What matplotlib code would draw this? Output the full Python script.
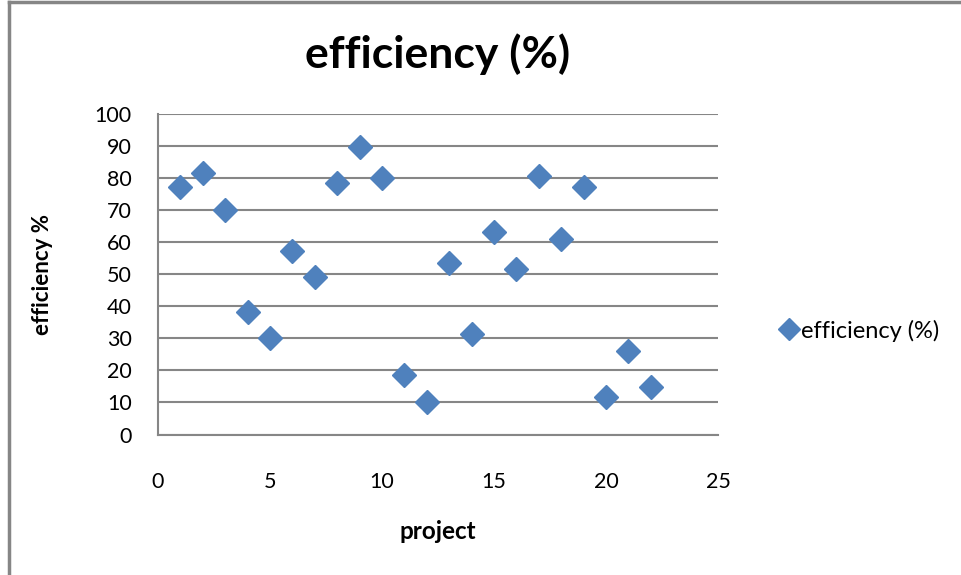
import numpy as np
import matplotlib
matplotlib.use("Agg")
import matplotlib.pyplot as plt
from matplotlib.lines import Line2D

plt.rcParams['font.family'] = ['Lato', 'DejaVu Sans']

# efficiency per project
projects = np.arange(1, 23)
efficiency = [77.2, 81.6, 70.0, 38.3, 30.0, 57.4, 49.0, 78.6, 89.6, 79.9, 18.5,
              10.2, 53.5, 31.4, 63.1, 51.5, 80.7, 61.1, 77.1, 11.8, 26.2, 14.9]

x_ticks = [0, 5, 10, 15, 20, 25]
y_ticks = list(range(0, 101, 10))

blue = "#4F81BD"
grey = "#868686"

fig = plt.figure(figsize=(9.61, 5.75), dpi=100)
ax = fig.add_axes([0.1644, 0.2443, 0.5827, 0.5574])

ax.plot(projects, efficiency, linestyle="none", marker="D", markersize=12.5,
        color=blue, markeredgecolor=blue, label="efficiency (%)", zorder=3)

ax.set_xlim(0, 25)
ax.set_ylim(0, 100)
ax.set_xticks(x_ticks)
ax.set_yticks(y_ticks)
ax.grid(axis="y", color=grey, linewidth=1.5)
ax.set_axisbelow(True)
for side in ["top", "right"]:
    ax.spines[side].set_visible(False)
for side in ["left", "bottom"]:
    ax.spines[side].set_color(grey)
    ax.spines[side].set_linewidth(1.5)
ax.tick_params(axis="both", length=0, labelsize=15.5)
ax.tick_params(axis="x", pad=27)
ax.tick_params(axis="y", pad=19)

ax.set_title("efficiency (%)", fontsize=32, fontweight="bold", pad=33)
ax.set_xlabel("project", fontsize=17.5, fontweight="bold", labelpad=20)
ax.set_ylabel("efficiency %", fontsize=16, fontweight="bold", labelpad=30)

handle = Line2D([], [], linestyle="none", marker="D", markersize=11, color=blue)
fig.legend([handle], ["efficiency (%)"], loc="center left",
           bbox_to_anchor=(0.787, 0.425), frameon=False, fontsize=17,
           handletextpad=0.0, handlelength=1.0)

# outer chart frame (top and left edges)
fig.add_artist(Line2D([0.0093, 0.0093], [0, 0.996], transform=fig.transFigure,
                      color=grey, linewidth=2.5))
fig.add_artist(Line2D([0.0093, 1], [0.996, 0.996], transform=fig.transFigure,
                      color=grey, linewidth=2.5))

fig.savefig("out.png", dpi=100)
